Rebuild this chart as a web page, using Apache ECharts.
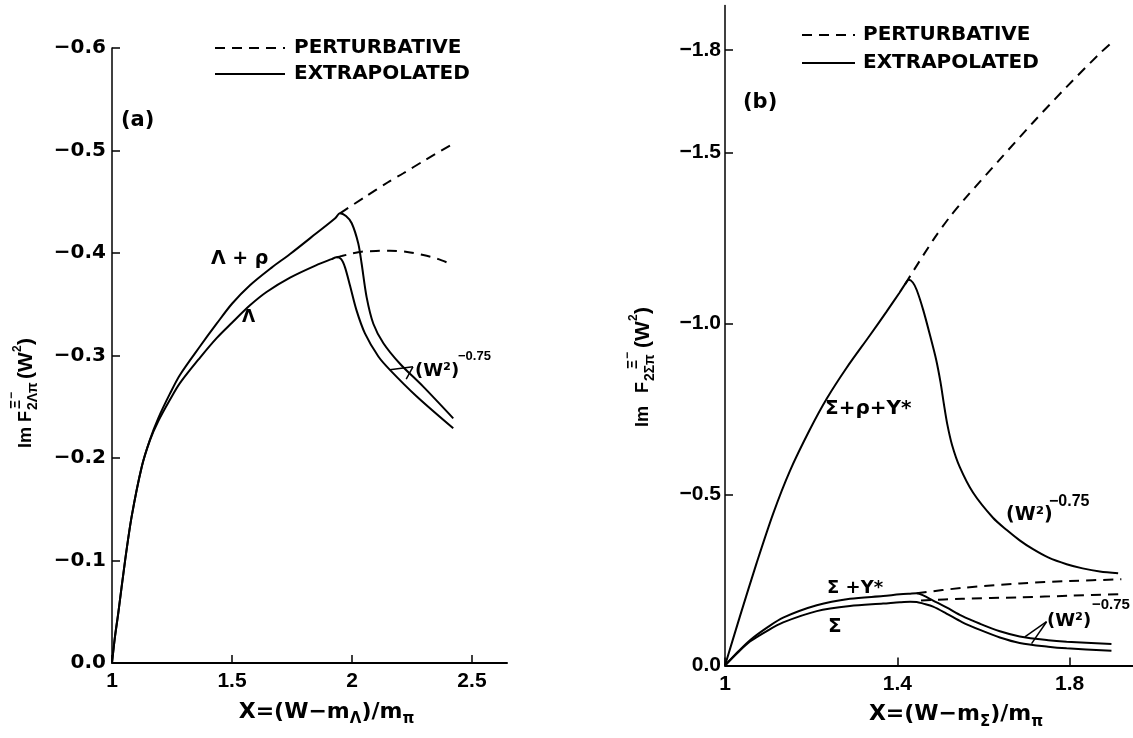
<!DOCTYPE html>
<html><head><meta charset="utf-8">
<script src="https://cdn.jsdelivr.net/npm/echarts@6/dist/echarts.min.js"></script>
<style>html,body{margin:0;padding:0;background:#fff}#c{width:1133px;height:738px}</style>
</head><body><div id="c"></div>
<script>
// ---------- Panel (a) data ----------
const aLamRhoX = [1, 1.012, 1.026, 1.054, 1.082, 1.124, 1.158, 1.193, 1.242, 1.283, 1.367, 1.436, 1.5, 1.575, 1.664, 1.742, 1.85, 1.93, 1.95, 1.975, 1.999, 2.026, 2.04, 2.061, 2.089, 2.131, 2.2, 2.297, 2.422];
const aLamRhoY = [0, -0.025, -0.0485, -0.099, -0.143, -0.1915, -0.2178, -0.239, -0.263, -0.281, -0.309, -0.331, -0.3505, -0.3685, -0.3855, -0.399, -0.419, -0.434, -0.4387, -0.436, -0.429, -0.4095, -0.39, -0.357, -0.331, -0.312, -0.292, -0.2696, -0.2387];
const aLamX = [1, 1.012, 1.026, 1.054, 1.082, 1.124, 1.158, 1.193, 1.242, 1.283, 1.367, 1.436, 1.5, 1.575, 1.644, 1.742, 1.85, 1.915, 1.936, 1.955, 1.971, 1.992, 2.019, 2.054, 2.11, 2.158, 2.27, 2.422];
const aLamY = [0, -0.025, -0.0485, -0.099, -0.143, -0.1915, -0.2172, -0.236, -0.257, -0.273, -0.298, -0.317, -0.332, -0.349, -0.362, -0.376, -0.388, -0.394, -0.3958, -0.394, -0.386, -0.368, -0.344, -0.3216, -0.299, -0.286, -0.26, -0.229];
const aLamRhoPertX = [1.95, 2.05, 2.15, 2.214, 2.3, 2.41];
const aLamRhoPertY = [-0.4387, -0.454, -0.469, -0.4778, -0.49, -0.505];
const aLamPertX = [1.936, 1.957, 2.0, 2.04, 2.1, 2.158, 2.23, 2.297, 2.36, 2.415];
const aLamPertY = [-0.3958, -0.397, -0.3995, -0.4013, -0.402, -0.4022, -0.401, -0.398, -0.394, -0.389];
const aXTicks = [1, 1.5, 2, 2.5];
const aYTicks = [-0.6, -0.5, -0.4, -0.3, -0.2, -0.1, 0];

// ---------- Panel (b) data ----------
const bSigRhoYX = [1, 1.035, 1.0735, 1.112, 1.151, 1.197, 1.236, 1.282, 1.336, 1.375, 1.405, 1.418, 1.4265, 1.436, 1.445, 1.46, 1.476, 1.49, 1.5, 1.508, 1.516, 1.527, 1.545, 1.576, 1.622, 1.654, 1.684, 1.715, 1.75, 1.793, 1.83, 1.87, 1.9125];
const bSigRhoYY = [0, -0.145, -0.3, -0.445, -0.57, -0.69, -0.78, -0.87, -0.965, -1.035, -1.09, -1.115, -1.128, -1.12, -1.098, -1.04, -0.965, -0.895, -0.83, -0.765, -0.705, -0.645, -0.58, -0.505, -0.432, -0.396, -0.366, -0.34, -0.316, -0.296, -0.284, -0.275, -0.27];
const bSigYStarX = [1, 1.03, 1.058, 1.1, 1.135, 1.213, 1.29, 1.367, 1.406, 1.43, 1.445, 1.46, 1.483, 1.514, 1.55, 1.592, 1.638, 1.684, 1.75, 1.793, 1.897];
const bSigYStarY = [0, -0.04, -0.074, -0.113, -0.14, -0.176, -0.195, -0.203, -0.208, -0.21, -0.211, -0.205, -0.19, -0.17, -0.145, -0.122, -0.1, -0.085, -0.074, -0.0696, -0.0629];
const bSigX = [1, 1.03, 1.058, 1.1, 1.135, 1.213, 1.29, 1.367, 1.406, 1.43, 1.445, 1.46, 1.483, 1.514, 1.55, 1.592, 1.638, 1.684, 1.75, 1.793, 1.897];
const bSigY = [0, -0.038, -0.07, -0.103, -0.126, -0.159, -0.174, -0.181, -0.185, -0.1866, -0.186, -0.181, -0.172, -0.152, -0.127, -0.104, -0.082, -0.066, -0.055, -0.0503, -0.0433];
const bSigRhoYPertX = [1.418, 1.483, 1.522, 1.561, 1.638, 1.715, 1.793, 1.87, 1.905];
const bSigRhoYPertY = [-1.115, -1.244, -1.312, -1.371, -1.48, -1.588, -1.692, -1.79, -1.83];
const bSigYStarPertX = [1.445, 1.55, 1.684, 1.8, 1.92];
const bSigYStarPertY = [-0.211, -0.227, -0.24, -0.247, -0.252];
const bSigPertX = [1.455, 1.55, 1.684, 1.8, 1.92];
const bSigPertY = [-0.19, -0.195, -0.1994, -0.204, -0.209];
const bXTicks = [1, 1.4, 1.8];
const bYTicks = [-1.8, -1.5, -1.0, -0.5, 0];

const LEG_DASH = 'PERTURBATIVE';
const LEG_SOLID = 'EXTRAPOLATED';

// ---------- helpers ----------
const zip = (xs, ys) => xs.map((x, i) => [x, ys[i]]);
const DV = '"DejaVu Sans", sans-serif';
const LS = '"Liberation Sans", sans-serif';
const DASH = [10, 7];
function line(name, xs, ys, gi, dashed, extra) {
  return Object.assign({
    type: 'line', name: name, xAxisIndex: gi, yAxisIndex: gi,
    data: zip(xs, ys), showSymbol: false, symbol: 'none',
    smooth: 0.3, silent: true,
    lineStyle: { color: '#000', width: 2, type: dashed ? DASH : 'solid' },
    itemStyle: { color: '#000' }
  }, extra || {});
}
function yFmt(v) { return Math.abs(v) < 1e-9 ? '0.0' : '\u2212' + Math.abs(v).toFixed(1); }
function xFmt(v) { return String(v); }
function pointer(pairs) {
  return {
    silent: true, symbol: ['none', 'none'], label: { show: false },
    lineStyle: { color: '#000', width: 1.5, type: 'solid' },
    data: pairs.map(p => [{ coord: p[0] }, { coord: p[1] }])
  };
}
function lab(family, size) { return { color: '#000', fontFamily: family, fontWeight: 'bold', fontSize: size }; }
function xAxis(gi, min, max, ticks, nameRich, padLeft) {
  return {
    gridIndex: gi, type: 'value', min: min, max: max,
    axisLine: { lineStyle: { color: '#000', width: 2 } },
    axisTick: { inside: true, length: 8, customValues: ticks, lineStyle: { color: '#000', width: 1.5 } },
    axisLabel: Object.assign({ customValues: ticks, formatter: xFmt, margin: 8 }, lab(LS, 21)),
    splitLine: { show: false },
    name: nameRich, nameLocation: 'middle', nameGap: 34,
    nameTextStyle: {
      padding: [0, 0, 0, padLeft],
      rich: {
        m: { fontFamily: DV, fontWeight: 'bold', fontSize: 22, color: '#000', lineHeight: 30, verticalAlign: 'middle' },
        s: { fontFamily: DV, fontWeight: 'bold', fontSize: 15, color: '#000', lineHeight: 15, verticalAlign: 'bottom' }
      }
    }
  };
}
function yAxis(gi, min, max, ticks, margin, lbl) {
  return {
    gridIndex: gi, type: 'value', min: min, max: max, inverse: true,
    axisLine: { lineStyle: { color: '#000', width: 1.5 } },
    axisTick: { inside: true, length: 8, customValues: ticks, lineStyle: { color: '#000', width: 1.5 } },
    axisLabel: Object.assign({ customValues: ticks, formatter: yFmt, margin: margin }, lbl),
    splitLine: { show: false }
  };
}
function txt(x, y, text, font, extra) {
  return { type: 'text', x: x, y: y, silent: true,
    style: Object.assign({ text: text, font: font, fill: '#000', align: 'left', verticalAlign: 'middle' }, extra || {}) };
}
function yTitle(x, y, parts) {
  return { type: 'group', x: x, y: y, rotation: Math.PI / 2, silent: true,
    children: parts.map(p => txt(p[0], p[1], p[2], p[3])) };
}
const F18 = 'bold 18px "Liberation Sans"';
const F14 = 'bold 14px "Liberation Sans"';
const F21 = 'bold 21px "Liberation Sans"';
const F12 = 'bold 12px "Liberation Sans"';

const legendCommon = {
  orient: 'vertical', selectedMode: false, itemHeight: 14,
  data: [LEG_DASH, LEG_SOLID],
  itemStyle: { color: 'rgba(0,0,0,0)', borderWidth: 0, opacity: 0 },
  textStyle: { color: '#000', fontFamily: DV, fontWeight: 'bold', fontSize: 20 }
};

const option = {
  animation: false,
  backgroundColor: '#fff',
  grid: [
    { left: 112, top: 48, width: 395, height: 615 },
    { left: 725, top: 5.5, width: 408, height: 660 }
  ],
  xAxis: [
    xAxis(0, 1, 2.646, aXTicks, '{m|X=(W\u2212m}{s|\u039B}{m|)/m}{s|\u03C0}', 34),
    xAxis(1, 1, 1.947, bXTicks, '{m|X=(W\u2212m}{s|\u03A3}{m|)/m}{s|\u03C0}', 54)
  ],
  yAxis: [
    yAxis(0, -0.6, 0, aYTicks, 6, lab(DV, 20)),
    yAxis(1, -1.93, 0, bYTicks, 4, lab(LS, 21))
  ],
  legend: [
    Object.assign({}, legendCommon, { left: 209, top: 33, itemWidth: 70, itemGap: 6,
      textStyle: Object.assign({}, legendCommon.textStyle, { padding: [0, 0, 0, 4] }) }),
    Object.assign({}, legendCommon, { left: 796, top: 20, itemWidth: 53, itemGap: 8,
      textStyle: Object.assign({}, legendCommon.textStyle, { padding: [0, 0, 0, 3] }) })
  ],
  series: [
    line(LEG_DASH, aLamRhoPertX, aLamRhoPertY, 0, true),
    line(LEG_SOLID, aLamRhoX, aLamRhoY, 0, false),
    line(LEG_SOLID, aLamX, aLamY, 0, false, { markLine: pointer([[[2.158, -0.286], [2.254, -0.289]], [[2.254, -0.289], [2.226, -0.277]]]) }),
    line(LEG_DASH, aLamPertX, aLamPertY, 0, true),
    line(LEG_DASH, bSigRhoYPertX, bSigRhoYPertY, 1, true),
    line(LEG_DASH, bSigYStarPertX, bSigYStarPertY, 1, true),
    line(LEG_DASH, bSigPertX, bSigPertY, 1, true),
    line(LEG_SOLID, bSigRhoYX, bSigRhoYY, 1, false),
    line(LEG_SOLID, bSigYStarX, bSigYStarY, 1, false),
    line(LEG_SOLID, bSigX, bSigY, 1, false, { markLine: pointer([[[1.7464, -0.128], [1.696, -0.084]], [[1.7464, -0.128], [1.7116, -0.064]]]) })
  ],
  graphic: [
    // panel (a) annotations
    txt(121, 121, '(a)', 'bold 21px "DejaVu Sans"'),
    txt(211, 259, '\u039B + \u03C1', 'bold 19px "DejaVu Sans"'),
    txt(242, 318, '\u039B', 'bold 17px "DejaVu Sans"'),
    txt(415, 371, '(W\u00B2)', 'bold 18px "DejaVu Sans"'),
    txt(458, 356, '\u22120.75', 'bold 13px "Liberation Sans"'),
    // panel (b) annotations
    txt(743, 103, '(b)', 'bold 21px "DejaVu Sans"'),
    txt(825, 409, '\u03A3+\u03C1+Y*', 'bold 20px "DejaVu Sans"'),
    txt(1006, 515, '(W\u00B2)', 'bold 19px "DejaVu Sans"'),
    txt(1049, 502, '\u22120.75', 'bold 16px "Liberation Sans"'),
    txt(827, 588, '\u03A3 +Y*', 'bold 18px "DejaVu Sans"'),
    txt(828, 627, '\u03A3', 'bold 20px "DejaVu Sans"'),
    txt(1047, 621, '(W\u00B2)', 'bold 18px "DejaVu Sans"'),
    txt(1092, 605, '\u22120.75', 'bold 15px "Liberation Sans"'),
    // y-axis titles (rotated, reading upward)
    yTitle(26.5, 448, [
      [0, 0, 'Im F', F18],
      [38, 7, '2\u039B\u03C0', F14],
      [39, -10, '\u039E', F14],
      [49, -15, '\u2212', F12],
      [69, 0, '(W', F21],
      [96, -9, '2', F12],
      [103, 0, ')', F21]
    ]),
    yTitle(643, 427, [
      [0, 0, 'Im', F18],
      [34, 0, 'F', F18],
      [46, 7, '2\u03A3\u03C0', F14],
      [58, -10, '\u039E', F14],
      [68, -15, '\u2212', F12],
      [79, 0, '(W', F21],
      [106, -9, '2', F12],
      [113, 0, ')', F21]
    ])
  ]
};
echarts.init(document.getElementById('c')).setOption(option);
</script>
</body></html>
